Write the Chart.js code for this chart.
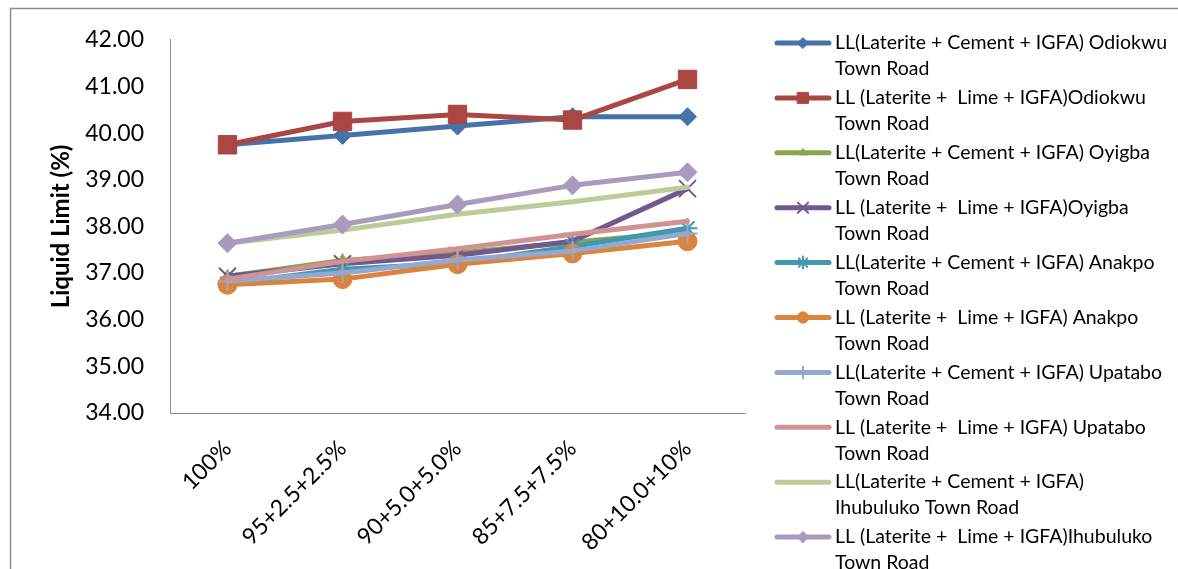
<!DOCTYPE html>
<html>
<head>
<meta charset="utf-8">
<script src="https://cdn.jsdelivr.net/npm/chart.js@4.4.1/dist/chart.umd.min.js"></script>
<style>
  html, body { margin: 0; padding: 0; background: #ffffff; }
  #wrap { width: 1178px; height: 569px; position: relative; }
</style>
</head>
<body>
<div id="wrap"><canvas id="chart" width="1178" height="569"></canvas></div>
<script>
// Mix proportions (laterite + stabiliser + IGFA)
const categories = ['100%', '95+2.5+2.5%', '90+5.0+5.0%', '85+7.5+7.5%', '80+10.0+10%'];

// Liquid limit (%) per road and stabiliser
const odiokwuCement   = [39.75, 39.95, 40.15, 40.35, 40.35];
const odiokwuLime     = [39.75, 40.25, 40.40, 40.28, 41.15];
const oyigbaCement    = [36.93, 37.27, 37.43, 37.66, 37.88];
const oyigbaLime      = [36.93, 37.20, 37.38, 37.68, 38.81];
const anakpoCement    = [36.77, 37.08, 37.21, 37.57, 37.96];
const anakpoLime      = [36.75, 36.87, 37.19, 37.42, 37.68];
const upataboCement   = [36.83, 37.00, 37.28, 37.47, 37.85];
const upataboLime     = [36.87, 37.25, 37.52, 37.83, 38.11];
const ihubulukoCement = [37.64, 37.92, 38.26, 38.53, 38.84];
const ihubulukoLime   = [37.64, 38.04, 38.47, 38.88, 39.16];

// Y axis range and tick step
const yMin = 34;
const yMax = 42;
const yStep = 1;

// Legend text, as wrapped lines
const legendLines = [
  ['LL(Laterite + Cement + IGFA) Odiokwu', 'Town Road'],
  ['LL (Laterite +  Lime + IGFA)Odiokwu', 'Town Road'],
  ['LL(Laterite + Cement + IGFA) Oyigba', 'Town Road'],
  ['LL (Laterite +  Lime + IGFA)Oyigba', 'Town Road'],
  ['LL(Laterite + Cement + IGFA) Anakpo', 'Town Road'],
  ['LL (Laterite +  Lime + IGFA) Anakpo', 'Town Road'],
  ['LL(Laterite + Cement + IGFA) Upatabo', 'Town Road'],
  ['LL (Laterite +  Lime + IGFA) Upatabo', 'Town Road'],
  ['LL(Laterite + Cement + IGFA)', 'Ihubuluko Town Road'],
  ['LL (Laterite +  Lime + IGFA)Ihubuluko', 'Town Road']
];

const seriesValues = [
  odiokwuCement, odiokwuLime, oyigbaCement, oyigbaLime, anakpoCement,
  anakpoLime, upataboCement, upataboLime, ihubulukoCement, ihubulukoLime
];

const seriesStyles = [
  { color: '#4572A7', pointStyle: 'rectRot',  radius: 9,    bw: 1 },
  { color: '#AA4643', pointStyle: 'rect',     radius: 13,   bw: 1 },
  { color: '#89A54E', pointStyle: 'triangle', radius: 7,    bw: 1 },
  { color: '#71588F', pointStyle: 'crossRot', radius: 12,   bw: 2 },
  { color: '#4198AF', pointStyle: 'star',     radius: 10,   bw: 2 },
  { color: '#DB843D', pointStyle: 'circle',   radius: 9.5,  bw: 1 },
  { color: '#93A9CF', pointStyle: 'cross',    radius: 10,   bw: 2 },
  { color: '#D19392', pointStyle: 'circle',   radius: 0,    bw: 1 },
  { color: '#B9CD96', pointStyle: 'circle',   radius: 0,    bw: 1 },
  { color: '#A99BBD', pointStyle: 'rectRot',  radius: 9.5,  bw: 1 }
];

const datasets = seriesValues.map((vals, i) => {
  const s = seriesStyles[i];
  return {
    label: legendLines[i].join(' '),
    data: vals,
    borderColor: s.color,
    backgroundColor: s.color,
    pointBackgroundColor: s.color,
    pointBorderColor: s.color,
    pointStyle: s.pointStyle,
    pointRadius: s.radius,
    pointHoverRadius: s.radius,
    pointBorderWidth: s.bw,
    borderWidth: 5,
    borderCapStyle: 'round',
    borderJoinStyle: 'round',
    tension: 0,
    fill: false,
    // later series sit on top of earlier ones
    order: seriesValues.length - i
  };
});

// Outer frame around the chart
const framePlugin = {
  id: 'frame',
  beforeDraw(chart) {
    const ctx = chart.ctx;
    ctx.save();
    ctx.fillStyle = '#ffffff';
    ctx.fillRect(0, 0, chart.width, chart.height);
    ctx.strokeStyle = '#8c8c8c';
    ctx.lineWidth = 1.5;
    ctx.strokeRect(10.5, 8.5, chart.width + 50, chart.height + 50);
    ctx.restore();
  }
};

// Legend on the right with wrapped labels
const sideLegend = {
  id: 'sideLegend',
  afterDraw(chart) {
    const ctx = chart.ctx;
    const dp = (Chart.helpers && Chart.helpers.drawPoint) ? Chart.helpers.drawPoint : null;
    ctx.save();
    chart.data.datasets.forEach((ds, i) => {
      const y = 43 + i * 54.9;
      ctx.strokeStyle = ds.borderColor;
      ctx.lineWidth = 5;
      ctx.lineCap = 'round';
      ctx.beginPath();
      ctx.moveTo(777, y);
      ctx.lineTo(829, y);
      ctx.stroke();
      if (ds.pointRadius > 0 && dp) {
        ctx.fillStyle = ds.borderColor;
        ctx.strokeStyle = ds.borderColor;
        ctx.lineWidth = ds.pointBorderWidth;
        dp(ctx, {
          pointStyle: ds.pointStyle,
          rotation: 0,
          radius: ds.pointRadius * 0.6,
          borderWidth: ds.pointBorderWidth
        }, 803, y);
      }
      ctx.fillStyle = '#000000';
      ctx.font = '19.5px Lato';
      ctx.textBaseline = 'middle';
      ctx.textAlign = 'left';
      legendLines[i].forEach((t, k) => ctx.fillText(t, 835, y + k * 26));
    });
    ctx.restore();
  }
};

new Chart(document.getElementById('chart'), {
  type: 'line',
  data: { labels: categories, datasets },
  plugins: [framePlugin, sideLegend],
  options: {
    responsive: false,
    animation: false,
    events: [],
    layout: { padding: { left: 10, top: 37, right: 433, bottom: 0 } },
    plugins: {
      legend: { display: false },
      tooltip: { enabled: false }
    },
    scales: {
      x: {
        type: 'category',
        offset: true,
        grid: { display: false, drawTicks: false },
        border: { display: true, color: '#8c8c8c', width: 1 },
        ticks: {
          color: '#000000',
          font: { family: 'Lato', size: 23 },
          minRotation: 45,
          maxRotation: 45,
          autoSkip: false,
          padding: 22
        },
        afterFit(scale) { scale.height = 156; }
      },
      y: {
        min: yMin,
        max: yMax,
        grid: { display: false, drawTicks: false },
        border: { display: true, color: '#8c8c8c', width: 1 },
        ticks: {
          stepSize: yStep,
          color: '#000000',
          font: { family: 'Lato', size: 23 },
          padding: 26,
          callback: (v) => Number(v).toFixed(2)
        },
        title: {
          display: true,
          text: 'Liquid Limit (%)',
          color: '#000000',
          font: { family: 'Lato', size: 24, weight: 'bold' },
          padding: { top: 37, bottom: 0 }
        },
        afterFit(scale) { scale.width = 160; }
      }
    }
  }
});
</script>
</body>
</html>
